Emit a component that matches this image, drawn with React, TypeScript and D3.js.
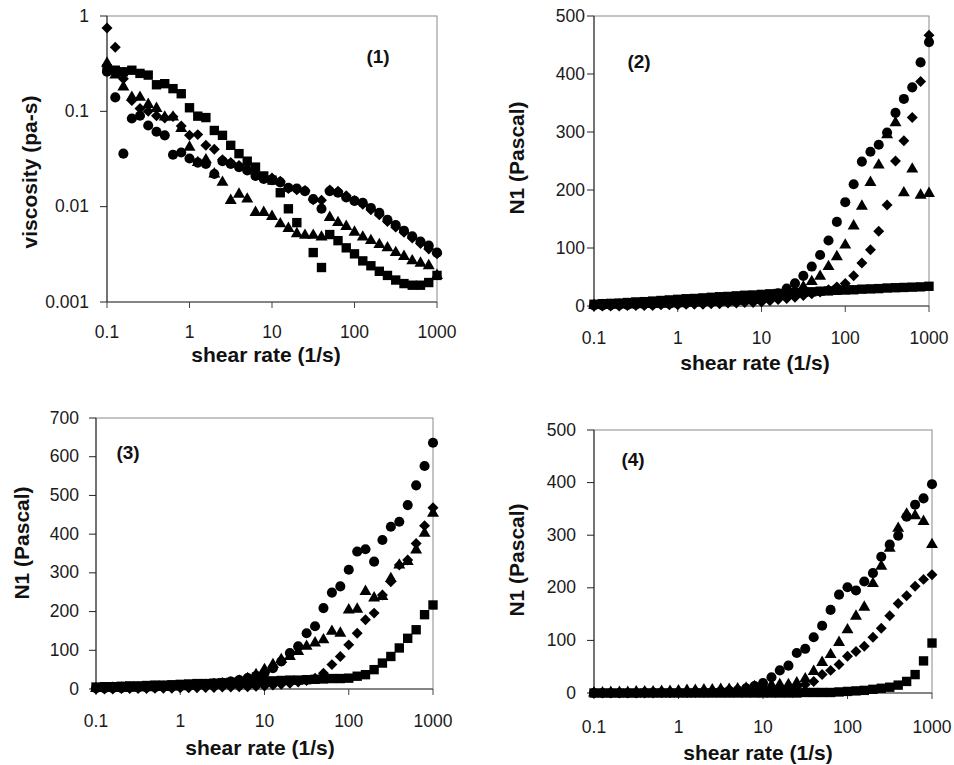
import React, { useEffect, useRef } from "react";
import * as d3 from "d3";

// shear rate grid (1/s), ten points per decade as logged by the rheometer
const shearRate = [
  0.1, 0.126, 0.158, 0.2, 0.251, 0.316, 0.398, 0.501, 0.631, 0.794,
  1, 1.26, 1.58, 2, 2.51, 3.16, 3.98, 5.01, 6.31, 7.94,
  10, 12.6, 15.8, 20, 25.1, 31.6, 39.8, 50.1, 63.1, 79.4,
  100, 126, 158, 200, 251, 316, 398, 501, 631, 794, 1000,
];

const xTicks = [0.1, 1, 10, 100, 1000];
const viscTicks = [1, 0.1, 0.01, 0.001];
const n1Ticks500 = [0, 100, 200, 300, 400, 500];
const n1Ticks700 = [0, 100, 200, 300, 400, 500, 600, 700];

// (1) viscosity, pa-s
const p1Square = [
  0.28, 0.27, 0.26, 0.27, 0.25, 0.24, 0.19, 0.195, 0.173, 0.153,
  0.109, 0.089, 0.086, 0.063, 0.056, 0.044, 0.036, 0.03, 0.026, 0.021,
  0.019, 0.014, 0.0095, 0.0068, null, 0.0033, 0.0023, 0.0051, 0.0044, 0.0037,
  0.0032, 0.0027, 0.0024, 0.0021, 0.0019, 0.0017, 0.00156, 0.0015, 0.0015, 0.0016, 0.0019,
];
const p1Triangle = [
  0.32, 0.24, 0.18, 0.14, 0.14, 0.118, 0.107, 0.087, 0.087, 0.066,
  0.042, 0.029, 0.031, 0.022, 0.018, 0.0116, 0.0135, 0.012, 0.0087, 0.0087,
  0.0079, 0.0066, 0.0059, 0.0052, 0.005, 0.005, 0.0048, 0.0077, 0.0068, 0.0062,
  0.0054, 0.0048, 0.0044, 0.004, 0.0037, 0.0033, 0.003, 0.0027, 0.00255, 0.0024, 0.0019,
];
const p1Circle = [
  0.26, 0.14, 0.036, 0.084, 0.09, 0.071, 0.061, 0.056, 0.035, 0.037,
  0.032, 0.029, 0.028, 0.022, 0.03, 0.028, 0.026, 0.024, 0.021, 0.0195,
  0.019, 0.018, 0.0158, 0.0155, 0.0145, 0.012, 0.0095, 0.0145, 0.014, 0.0125,
  0.0115, 0.011, 0.0097, 0.0086, 0.0073, 0.0064, 0.0056, 0.0049, 0.0043, 0.0039, 0.0033,
];
const p1Diamond = [
  0.75, 0.47, 0.22, 0.13, 0.107, 0.1, 0.09, 0.085, 0.088, 0.07,
  0.056, 0.057, 0.044, 0.04, 0.031, 0.029, 0.027, 0.025, 0.022, 0.02,
  0.02, 0.0185, 0.0155, 0.015, 0.0148, 0.0118, 0.0117, 0.015, 0.0145, 0.013,
  0.0116, 0.0106, 0.0093, 0.0082, 0.007, 0.0061, 0.0054, 0.0047, 0.0041, 0.0036, 0.0032,
];

// (2) N1, Pascal
const p2Square = [
  3, 4, 4.5, 5, 6, 7, 7.5, 8.5, 9.5, 10.5,
  11.5, 12.5, 13, 14, 15, 16, 16.5, 17.5, 18.5, 19,
  20, 21, 21.5, 22.5, 23, 24, 24.5, 25.5, 26, 27,
  27.5, 28, 29, 29.5, 30, 31, 31.5, 32, 32.5, 33, 34,
];
const p2Triangle = [
  1, 1, 1, 2, 2, 2, 3, 3, 3, 4,
  4, 5, 5, 6, 6, 7, 7, 8, 9, 10,
  12, 15, 18, 23, 28, 33, 42, 51, 68, 85,
  105, 138, 172, 213, 243, 295, 316, 195, 236, 191, 194,
];
const p2Circle = [
  1, 1, 1.5, 2, 2, 2.5, 3, 3, 4, 4,
  5, 5, 6, 6, 7, 8, 8, 9, 10, 11,
  13, 17, 22, 30, 39, 52, 68, 88, 113, 145,
  179, 210, 249, 266, 278, 299, 333, 357, 377, 420, 455,
];
const p2Diamond = [
  0, 0, 0, 0, 1, 1, 1, 1, 2, 2,
  2, 3, 3, 3, 4, 4, 5, 5, 6, 6,
  7, 9, 11, 13, 15, 18, 21, 24, 28, 33,
  39, 52, 74, 97, 129, 174, 250, 285, 325, 387, 467,
];

// (3) N1, Pascal
const p3Square = [
  5, 6, 6, 7, 8, 8, 9, 10, 10, 11,
  12, 13, 14, 14, 15, 16, 17, 18, 19, 19,
  20, 21, 22, 23, 23, 24, 25, 26, 27, 27,
  28, 33, 37, 50, 67, 84, 106, 131, 153, 192, 217,
];
const p3Triangle = [
  1, 1, 2, 2, 2, 3, 3, 4, 4, 5,
  6, 7, 8, 9, 11, 13, 16, 20, 27, 37,
  50, 63, 76, 84, 97, 110, 119, 127, 149, 144,
  204, 206, 252, 235, 239, 285, 320, 329, 359, 402, 454,
];
const p3Circle = [
  2, 2, 3, 3, 4, 4, 5, 5, 6, 7,
  8, 9, 10, 12, 14, 16, 19, 23, 28, 34,
  41, 54, 71, 93, 110, 144, 162, 209, 249, 265,
  308, 355, 361, 329, 385, 419, 432, 475, 526, 576, 636,
];
const p3Diamond = [
  0, 0, 0, 1, 1, 1, 1, 2, 2, 2,
  3, 3, 3, 4, 4, 5, 5, 6, 6, 7,
  8, 10, 12, 15, 18, 22, 28, 41, 63, 84,
  114, 144, 179, 196, 243, 277, 320, 333, 376, 422, 468,
];

// (4) N1, Pascal
const p4Square = [
  0, 0, 0, 0, 0, 0, 0, 0, 0, 0,
  0, 0, 0, 0, 0, 0, 0, 0, 0, 0,
  0, 0, 0, 0, 0, 1, 1, 1, 1, 2,
  3, 4, 5, 7, 9, 11, 15, 22, 35, 61, 95,
];
const p4Triangle = [
  0, 0, 1, 1, 1, 2, 2, 2, 3, 3,
  4, 5, 5, 6, 6, 7, 7, 8, 9, 12,
  14, 15, 16, 16, 19, 27, 41, 58, 73, 96,
  120, 146, 163, 208, 241, 275, 313, 340, 337, 326, 282,
];
const p4Circle = [
  0, 0, 0, 0, 0, 0, 1, 1, 1, 1,
  1, 1, 2, 2, 2, 3, 4, 5, 9, 13,
  19, 30, 43, 52, 76, 84, 106, 128, 158, 187,
  201, 195, 212, 228, 259, 282, 299, 335, 358, 370, 397,
];
const p4Diamond = [
  0, 0, 0, 0, 0, 0, 0, 0, 1, 1,
  1, 1, 1, 1, 2, 2, 2, 3, 4, 5,
  6, 7, 8, 10, 12, 16, 22, 35, 43, 54,
  70, 79, 89, 106, 123, 147, 170, 185, 203, 216, 225,
];

const panels = [
  {
    tag: "(1)", log: true, yDomain: [0.001, 1], yTicks: viscTicks, yTitle: "viscosity (pa-s)",
    series: [p1Diamond, p1Triangle, p1Circle, p1Square],
    box: { left: 107, right: 437, top: 16, bottom: 302 },
    lay: { yLab: 89, xLab: 338, xTitle: [266, 362], yTitle: [37, 172], tagPos: [378, 63] },
  },
  {
    tag: "(2)", log: false, yDomain: [0, 500], yTicks: n1Ticks500, yTitle: "N1 (Pascal)",
    series: [p2Diamond, p2Triangle, p2Circle, p2Square],
    box: { left: 594, right: 929, top: 16, bottom: 306 },
    lay: { yLab: 585, xLab: 344, xTitle: [755, 370], yTitle: [524, 158], tagPos: [639, 68] },
  },
  {
    tag: "(3)", log: false, yDomain: [0, 700], yTicks: n1Ticks700, yTitle: "N1 (Pascal)",
    series: [p3Diamond, p3Triangle, p3Circle, p3Square],
    box: { left: 96, right: 433, top: 418, bottom: 689 },
    lay: { yLab: 79, xLab: 727, xTitle: [260, 755], yTitle: [29, 543], tagPos: [128, 459] },
  },
  {
    tag: "(4)", log: false, yDomain: [0, 500], yTicks: n1Ticks500, yTitle: "N1 (Pascal)",
    series: [p4Diamond, p4Triangle, p4Circle, p4Square],
    box: { left: 594, right: 932, top: 430, bottom: 693 },
    lay: { yLab: 576, xLab: 733, xTitle: [758, 760], yTitle: [524, 560], tagPos: [633, 466] },
  },
];

// same order as panels[].series
const markers = [
  { path: d3.symbol(d3.symbolSquare, 60)(), rotate: 45 },
  { path: d3.symbol(d3.symbolTriangle, 62)(), rotate: 0 },
  { path: d3.symbol(d3.symbolCircle, 80)(), rotate: 0 },
  { path: d3.symbol(d3.symbolSquare, 88)(), rotate: 0 },
];

const FONT = "'Liberation Sans', Arial, sans-serif";

const App = () => {
  const svgRef = useRef(null);

  useEffect(() => {
    const svg = d3.select(svgRef.current);
    svg.selectAll("*").remove();

    panels.forEach((p) => {
      const { left, right, top, bottom } = p.box;
      const x = d3.scaleLog().domain([0.1, 1000]).range([left, right]);
      const y = p.log
        ? d3.scaleLog().domain(p.yDomain).range([bottom, top])
        : d3.scaleLinear().domain(p.yDomain).range([bottom, top]);

      const g = svg.append("g");

      // frame: top & right in grey, axes in black
      g.append("rect")
        .attr("x", left).attr("y", top)
        .attr("width", right - left).attr("height", bottom - top)
        .attr("fill", "none").attr("stroke", "#8a8a8a").attr("stroke-width", 1);
      g.append("line")
        .attr("x1", left).attr("x2", left).attr("y1", top).attr("y2", bottom)
        .attr("stroke", "#222");
      g.append("line")
        .attr("x1", left).attr("x2", right).attr("y1", bottom).attr("y2", bottom)
        .attr("stroke", "#444");

      // y ticks + labels
      p.yTicks.forEach((t) => {
        g.append("line")
          .attr("x1", left - 7).attr("x2", left)
          .attr("y1", y(t)).attr("y2", y(t))
          .attr("stroke", "#222");
        g.append("text")
          .attr("x", p.lay.yLab).attr("y", y(t) + 5.5)
          .attr("text-anchor", "end")
          .style("font-family", FONT).style("font-size", "17.5px").style("fill", "#1a1a1a")
          .text(String(t));
      });

      // x ticks + labels
      xTicks.forEach((t) => {
        g.append("line")
          .attr("x1", x(t)).attr("x2", x(t))
          .attr("y1", bottom).attr("y2", bottom + 6)
          .attr("stroke", "#444");
        g.append("text")
          .attr("x", x(t)).attr("y", p.lay.xLab)
          .attr("text-anchor", "middle")
          .style("font-family", FONT).style("font-size", "17.5px").style("fill", "#1a1a1a")
          .text(String(t));
      });

      // markers
      p.series.forEach((vals, si) => {
        const m = markers[si];
        g.append("g")
          .selectAll("path")
          .data(shearRate.map((sr, i) => [sr, vals[i]]).filter((d) => d[1] !== null))
          .enter()
          .append("path")
          .attr("d", m.path)
          .attr("transform", (d) => `translate(${x(d[0])},${y(d[1])}) rotate(${m.rotate})`)
          .attr("fill", "#000");
      });

      // axis titles
      g.append("text")
        .attr("x", p.lay.xTitle[0]).attr("y", p.lay.xTitle[1])
        .attr("text-anchor", "middle")
        .style("font-family", FONT).style("font-size", "21px").style("font-weight", "bold")
        .style("fill", "#111")
        .text("shear rate (1/s)");

      g.append("text")
        .attr("transform", `translate(${p.lay.yTitle[0]},${p.lay.yTitle[1]}) rotate(-90)`)
        .attr("text-anchor", "middle")
        .style("font-family", FONT).style("font-size", "21px").style("font-weight", "bold")
        .style("fill", "#111")
        .text(p.yTitle);

      // panel number
      g.append("text")
        .attr("x", p.lay.tagPos[0]).attr("y", p.lay.tagPos[1])
        .attr("text-anchor", "middle")
        .style("font-family", FONT).style("font-size", "19px").style("font-weight", "bold")
        .style("fill", "#111")
        .text(p.tag);
    });
  }, []);

  return (
    <svg
      ref={svgRef}
      width={954}
      height={765}
      style={{ position: "absolute", left: 0, top: 0, background: "#fff" }}
    ></svg>
  );
};

export default App;
